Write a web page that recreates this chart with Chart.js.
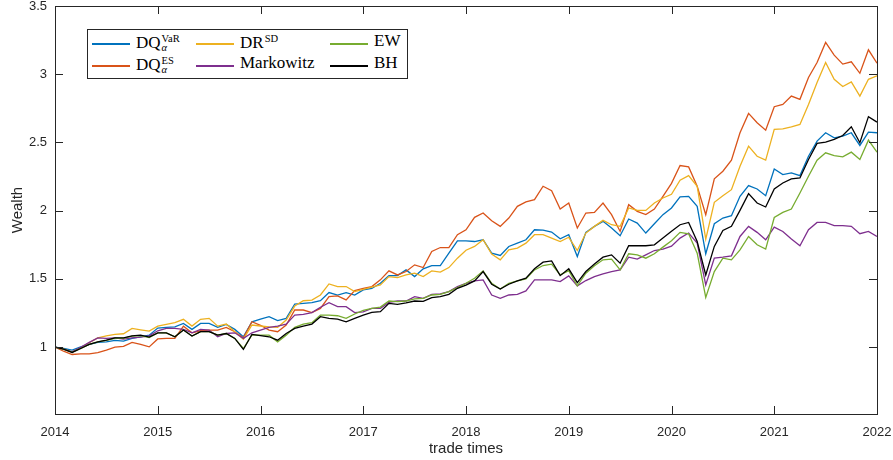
<!DOCTYPE html>
<html>
<head>
<meta charset="utf-8">
<script src="https://cdn.jsdelivr.net/npm/chart.js@4.4.1/dist/chart.umd.min.js"></script>
<style>
  html, body { margin: 0; padding: 0; background: #fff; }
  #wrap { position: relative; width: 893px; height: 460px; }
  #legend {
    position: absolute; left: 87px; top: 29px; width: 321px; height: 50px;
    border: 1px solid #262626; background: #fff; box-sizing: border-box;
    font-family: 'Liberation Serif', 'Times New Roman', serif; font-size: 17px; color: #000;
  }
  .swatch { position: absolute; width: 38px; height: 1.5px; }
  .name { position: absolute; white-space: nowrap; line-height: 20px; }
  .ss { display: inline-block; position: relative; top: 3px; vertical-align: baseline;
        font-size: 10.5px; line-height: 9px; margin-left: 1px; }
  .ss span { display: block; }
</style>
</head>
<body>
<div id="wrap">
  <canvas id="chart" width="893" height="460"></canvas>
  <div id="legend"></div>
</div>
<script>
// monthly wealth, start of 2014 to start of 2022
const startYear = 2014;
const dqVar = [1.0, 0.99, 0.978, 1.002, 1.02, 1.035, 1.039, 1.049, 1.044, 1.064, 1.076, 1.088,
  1.14, 1.145, 1.149, 1.174, 1.13, 1.174, 1.174, 1.145, 1.167, 1.13, 1.076, 1.186,
  1.205, 1.223, 1.194, 1.211, 1.316, 1.321, 1.326, 1.34, 1.4, 1.382, 1.4, 1.382,
  1.42, 1.43, 1.468, 1.524, 1.524, 1.566, 1.517, 1.574, 1.598, 1.598, 1.689, 1.779,
  1.779, 1.774, 1.787, 1.689, 1.672, 1.738, 1.762, 1.787, 1.86, 1.857, 1.843, 1.794,
  1.824, 1.664, 1.841, 1.885, 1.922, 1.873, 1.816, 1.939, 1.909, 1.836, 1.904, 1.971,
  2.02, 2.101, 2.105, 2.032, 1.684, 1.904, 1.946, 1.963, 2.105, 2.184, 2.159, 2.11,
  2.306, 2.265, 2.277, 2.257, 2.399, 2.51, 2.571, 2.534, 2.546, 2.571, 2.478, 2.576, 2.571];
const dqEs = [1.0, 0.97, 0.946, 0.95, 0.95, 0.96, 0.978, 1.0, 1.005, 1.035, 1.02, 1.002,
  1.06, 1.064, 1.064, 1.154, 1.105, 1.12, 1.125, 1.125, 1.145, 1.113, 1.068, 1.186,
  1.16, 1.125, 1.113, 1.162, 1.272, 1.272, 1.253, 1.284, 1.37, 1.375, 1.346, 1.414,
  1.43, 1.444, 1.493, 1.559, 1.529, 1.554, 1.603, 1.583, 1.701, 1.73, 1.73, 1.824,
  1.86, 1.951, 1.983, 1.926, 1.885, 1.946, 2.032, 2.064, 2.081, 2.179, 2.147, 2.012,
  2.056, 1.873, 1.983, 1.988, 2.056, 1.971, 1.848, 2.044, 1.995, 1.971, 2.012, 2.105,
  2.2, 2.331, 2.321, 2.179, 1.971, 2.233, 2.289, 2.37, 2.571, 2.713, 2.645, 2.59,
  2.762, 2.779, 2.84, 2.816, 2.976, 3.086, 3.233, 3.14, 3.074, 3.091, 3.007, 3.179, 3.081];
const drSd = [1.0, 0.985, 0.965, 0.995, 1.032, 1.068, 1.083, 1.093, 1.098, 1.137, 1.127, 1.118,
  1.154, 1.167, 1.179, 1.204, 1.154, 1.204, 1.211, 1.154, 1.169, 1.113, 1.057, 1.162,
  1.155, 1.149, 1.145, 1.199, 1.301, 1.34, 1.345, 1.382, 1.463, 1.444, 1.444, 1.407,
  1.424, 1.44, 1.456, 1.517, 1.51, 1.529, 1.542, 1.517, 1.559, 1.55, 1.583, 1.652,
  1.71, 1.738, 1.787, 1.682, 1.64, 1.713, 1.726, 1.762, 1.824, 1.824, 1.799, 1.774,
  1.805, 1.708, 1.836, 1.885, 1.929, 1.897, 1.885, 2.02, 2.002, 2.002, 2.056, 2.093,
  2.12, 2.223, 2.257, 2.179, 1.792, 2.061, 2.11, 2.154, 2.326, 2.473, 2.399, 2.37,
  2.596, 2.6, 2.615, 2.632, 2.779, 2.939, 3.086, 2.963, 2.91, 2.944, 2.84, 2.963, 2.988];
const markowitz = [1.0, 0.985, 0.965, 0.998, 1.035, 1.068, 1.064, 1.068, 1.059, 1.068, 1.074, 1.083,
  1.12, 1.137, 1.137, 1.13, 1.105, 1.13, 1.125, 1.076, 1.1, 1.105, 1.064, 1.105,
  1.125, 1.145, 1.154, 1.169, 1.235, 1.24, 1.253, 1.292, 1.326, 1.297, 1.297, 1.253,
  1.258, 1.284, 1.284, 1.328, 1.338, 1.338, 1.37, 1.358, 1.387, 1.39, 1.407, 1.444,
  1.468, 1.485, 1.493, 1.382, 1.358, 1.382, 1.387, 1.412, 1.493, 1.493, 1.493, 1.48,
  1.522, 1.449, 1.488, 1.517, 1.537, 1.554, 1.566, 1.659, 1.645, 1.676, 1.708, 1.718,
  1.74, 1.799, 1.836, 1.762, 1.456, 1.652, 1.659, 1.669, 1.811, 1.885, 1.841, 1.787,
  1.88, 1.848, 1.792, 1.743, 1.86, 1.914, 1.914, 1.89, 1.89, 1.885, 1.831, 1.848, 1.811];
const ew = [1.0, 0.985, 0.962, 0.99, 1.02, 1.039, 1.05, 1.065, 1.065, 1.08, 1.085, 1.07,
  1.105, 1.105, 1.076, 1.125, 1.081, 1.113, 1.113, 1.088, 1.1, 1.064, 0.99, 1.09,
  1.088, 1.088, 1.039, 1.088, 1.145, 1.169, 1.179, 1.235, 1.235, 1.23, 1.211, 1.243,
  1.27, 1.284, 1.294, 1.338, 1.333, 1.338, 1.353, 1.358, 1.382, 1.387, 1.407, 1.436,
  1.468, 1.505, 1.559, 1.468, 1.426, 1.468, 1.485, 1.5, 1.566, 1.598, 1.608, 1.529,
  1.56, 1.449, 1.542, 1.596, 1.64, 1.645, 1.566, 1.684, 1.676, 1.652, 1.684, 1.733,
  1.78, 1.841, 1.831, 1.689, 1.365, 1.554, 1.652, 1.64, 1.713, 1.811, 1.75, 1.718,
  1.95, 1.988, 2.012, 2.13, 2.252, 2.37, 2.424, 2.404, 2.395, 2.429, 2.375, 2.517, 2.429];
const bh = [1.0, 0.985, 0.961, 0.99, 1.02, 1.039, 1.051, 1.068, 1.068, 1.083, 1.088, 1.074,
  1.105, 1.105, 1.076, 1.125, 1.081, 1.113, 1.113, 1.088, 1.1, 1.064, 0.983, 1.093,
  1.085, 1.076, 1.051, 1.1, 1.137, 1.154, 1.169, 1.223, 1.211, 1.206, 1.186, 1.211,
  1.235, 1.255, 1.26, 1.321, 1.314, 1.325, 1.338, 1.335, 1.363, 1.37, 1.387, 1.431,
  1.455, 1.485, 1.554, 1.461, 1.426, 1.461, 1.485, 1.505, 1.574, 1.623, 1.632, 1.524,
  1.574, 1.473, 1.554, 1.61, 1.659, 1.676, 1.615, 1.743, 1.743, 1.743, 1.75, 1.799,
  1.85, 1.897, 1.914, 1.774, 1.529, 1.738, 1.855, 1.885, 2.002, 2.125, 2.056, 2.027,
  2.16, 2.203, 2.233, 2.24, 2.375, 2.493, 2.502, 2.522, 2.551, 2.615, 2.498, 2.689, 2.649];

const xTicks = [2014, 2015, 2016, 2017, 2018, 2019, 2020, 2021, 2022];
const xTickLabels = ['2014', '2015', '2016', '2017', '2018', '2019', '2020', '2021', '2022'];
const yTicks = [1, 1.5, 2, 2.5, 3, 3.5];
const yTickLabels = ['1', '1.5', '2', '2.5', '3', '3.5'];

// legend names: base text, superscript, subscript (same order as plotting)
const seriesNames = ['DQ', 'DQ', 'DR', 'Markowitz', 'EW', 'BH'];
const seriesSup = ['VaR', 'ES', 'SD', '', '', ''];
const seriesSub = ['\u03b1', '\u03b1', '', '', '', ''];
const seriesColors = ['#0072BD', '#D95319', '#EDB120', '#7E2F8E', '#77AC30', '#000000'];
const seriesData = [dqVar, dqEs, drSd, markowitz, ew, bh];

const axisColor = '#262626';
const sansFont = "'Liberation Sans', Arial, Helvetica, sans-serif";

// draws the full box with inward tick marks like matlab
const boxPlugin = {
  id: 'box',
  afterDatasetsDraw(chart) {
    const { ctx, chartArea: a, scales: { x, y } } = chart;
    const tl = 8;
    ctx.save();
    ctx.strokeStyle = axisColor;
    ctx.lineWidth = 1;
    ctx.beginPath();
    xTicks.forEach(v => {
      const px = Math.round(x.getPixelForValue(v)) + 0.5;
      ctx.moveTo(px, a.bottom); ctx.lineTo(px, a.bottom - tl);
      ctx.moveTo(px, a.top); ctx.lineTo(px, a.top + tl);
    });
    yTicks.forEach(v => {
      const py = Math.round(y.getPixelForValue(v)) + 0.5;
      ctx.moveTo(a.left, py); ctx.lineTo(a.left + tl, py);
      ctx.moveTo(a.right, py); ctx.lineTo(a.right - tl, py);
    });
    ctx.stroke();
    ctx.strokeRect(Math.round(a.left) + 0.5, Math.round(a.top) + 0.5,
      Math.round(a.right - a.left), Math.round(a.bottom - a.top));
    ctx.restore();
  }
};

// no extra room for tick labels, layout.padding decides the plot box
const noPad = s => { s.paddingLeft = 0; s.paddingRight = 0; s.paddingTop = 0; s.paddingBottom = 0; };

const datasets = seriesData.map((vals, i) => ({
  label: seriesNames[i] + seriesSup[i],
  data: vals.map((v, m) => ({ x: startYear + m / 12, y: v })),
  borderColor: seriesColors[i],
  borderWidth: 1.3,
  pointRadius: 0,
  tension: 0,
  fill: false,
  order: seriesData.length - i
}));

new Chart(document.getElementById('chart'), {
  type: 'line',
  data: { datasets },
  options: {
    responsive: false,
    animation: false,
    layout: { padding: { left: 0, top: 6, right: 16, bottom: 0 } },
    plugins: { legend: { display: false }, tooltip: { enabled: false } },
    scales: {
      x: {
        type: 'linear',
        min: 2014,
        max: 2022,
        afterBuildTicks: s => { s.ticks = xTicks.map(v => ({ value: v })); },
        afterFit: s => { s.height = 46; noPad(s); },
        grid: { display: false, drawTicks: false },
        border: { display: false },
        ticks: {
          autoSkip: false, maxRotation: 0, padding: 11, color: axisColor,
          font: { family: sansFont, size: 13 },
          callback: (v, i) => xTickLabels[i]
        },
        title: {
          display: true, text: 'trade times', color: axisColor,
          font: { family: sansFont, size: 15 }, padding: { top: 0, bottom: 2 }
        }
      },
      y: {
        min: 0.51,
        max: 3.5,
        afterBuildTicks: s => { s.ticks = yTicks.map(v => ({ value: v })); },
        afterFit: s => { s.width = 55; noPad(s); },
        grid: { display: false, drawTicks: false },
        border: { display: false },
        ticks: {
          padding: 8, color: axisColor,
          font: { family: sansFont, size: 13 },
          callback: (v, i) => yTickLabels[i]
        },
        title: {
          display: true, text: 'Wealth', color: axisColor,
          font: { family: sansFont, size: 15 }, padding: { top: 9, bottom: 0 }
        }
      }
    }
  },
  plugins: [boxPlugin]
});

// legend, 3 columns filled column by column
const legend = document.getElementById('legend');
const colX = [4, 108, 242];
const rowY = [13, 35];
seriesNames.forEach((name, i) => {
  const col = Math.floor(i / 2), row = i % 2;
  const sw = document.createElement('div');
  sw.className = 'swatch';
  sw.style.left = colX[col] + 'px';
  sw.style.top = rowY[row] + 'px';
  sw.style.background = seriesColors[i];
  legend.appendChild(sw);

  const lbl = document.createElement('span');
  lbl.className = 'name';
  lbl.style.left = (colX[col] + 44) + 'px';
  lbl.style.top = (rowY[row] - 12) + 'px';
  lbl.textContent = name;
  if (seriesSup[i] || seriesSub[i]) {
    const ss = document.createElement('span');
    ss.className = 'ss';
    const up = document.createElement('span');
    up.textContent = seriesSup[i] || '\u00a0';
    const dn = document.createElement('span');
    dn.textContent = seriesSub[i] || '\u00a0';
    dn.style.fontStyle = 'italic';
    ss.appendChild(up);
    ss.appendChild(dn);
    lbl.appendChild(ss);
  }
  legend.appendChild(lbl);
});
</script>
</body>
</html>
